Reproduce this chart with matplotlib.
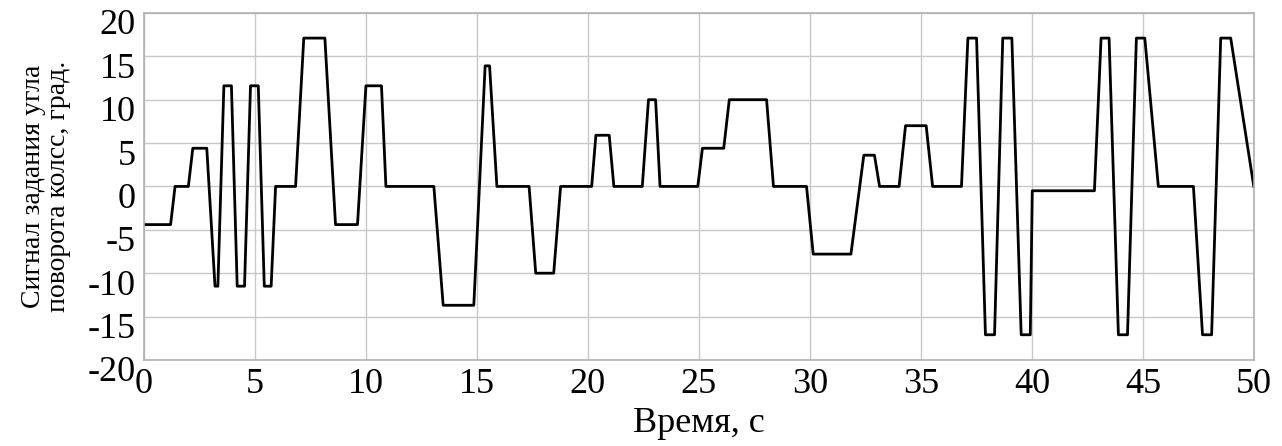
import matplotlib.pyplot as plt
from matplotlib.transforms import ScaledTranslation

# точки кусочно-линейного сигнала (время, с / угол, град.)
t = [0, 1.2, 1.4, 2.0, 2.2, 2.83, 3.2, 3.33, 3.6, 3.94, 4.2, 4.53, 4.8, 5.15, 5.42,
     5.73, 5.93, 6.83, 7.2, 8.15, 8.63, 9.62, 10.0, 10.7, 10.9,
     13.06, 13.48, 14.86, 15.37, 15.57, 15.9, 17.35, 17.65, 18.46, 18.77,
     20.17, 20.36, 20.96, 21.17, 22.45, 22.73, 23.05, 23.25, 24.95, 25.16,
     26.12, 26.37, 28.05, 28.36, 29.85, 30.15, 31.85, 32.43, 32.91, 33.14,
     34.02, 34.31, 35.24, 35.53, 36.83, 37.12, 37.51, 37.91, 38.32, 38.69,
     39.1, 39.52, 39.93, 40.02, 42.82, 43.12, 43.48, 43.9, 44.31, 44.71,
     45.09, 45.7, 47.28, 47.69, 48.1, 48.51, 48.96, 50.0]
angle = [-4.4, -4.4, 0, 0, 4.4, 4.4, -11.5, -11.5, 11.6, 11.6, -11.5, -11.5, 11.6, 11.6, -11.5,
         -11.5, 0, 0, 17.1, 17.1, -4.4, -4.4, 11.6, 11.6, 0,
         0, -13.7, -13.7, 13.9, 13.9, 0, 0, -10.0, -10.0, 0,
         0, 5.9, 5.9, 0, 0, 10.0, 10.0, 0, 0, 4.4,
         4.4, 10.0, 10.0, 0, 0, -7.8, -7.8, 3.6, 3.6, 0,
         0, 7.0, 7.0, 0, 0, 17.1, 17.1, -17.1, -17.1, 17.1,
         17.1, -17.1, -17.1, -0.5, -0.5, 17.1, 17.1, -17.1, -17.1, 17.1,
         17.1, 0, 0, -17.1, -17.1, 17.1, 17.1, 0]

xticks = [0, 5, 10, 15, 20, 25, 30, 35, 40, 45, 50]
yticks = [-20, -15, -10, -5, 0, 5, 10, 15, 20]

plt.rcParams['font.family'] = ['Liberation Serif', 'DejaVu Serif']
plt.rcParams['axes.unicode_minus'] = False

fig = plt.figure(figsize=(12.82, 4.46), dpi=100)
ax = fig.add_axes([0.1123, 0.193, 0.8657, 0.778])

ax.plot(t, angle, c='black', linewidth=2)

ax.set_xlim(0, 50)
ax.set_ylim(-20, 20)
ax.set_xticks(xticks)
ax.set_yticks(yticks)
ax.grid(True, color='#c8c8c8', linewidth=1)
ax.tick_params(length=0, labelsize=26)
ax.tick_params(axis='x', pad=6)
ax.tick_params(axis='y', pad=6)
for s in ax.spines.values():
    s.set_color('#b0b0b0')
    s.set_linewidth(1.2)

# подписи оси Y немного сдвинуты вниз, как в оригинале
shift = ScaledTranslation(0, -9 / 100, fig.dpi_scale_trans)
for lab in ax.get_yticklabels():
    lab.set_transform(lab.get_transform() + shift)

ax.set_xlabel('Время, с', fontsize=26, labelpad=4)
ax.set_ylabel('Сигнал задания угла\nповорота колсс, град.', fontsize=20, labelpad=12,
              linespacing=1.0)

plt.savefig('out.png')
